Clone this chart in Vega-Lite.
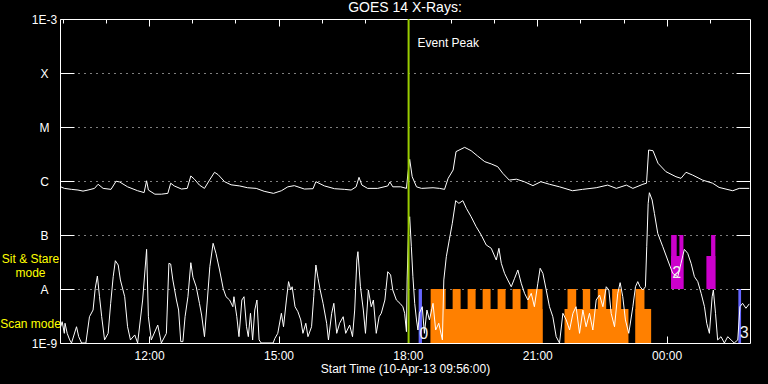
{
"$schema": "https://vega.github.io/schema/vega-lite/v6.json",
"width": 690, "height": 324,
"autosize": "none",
"padding": {"left": 60, "top": 19, "right": 18, "bottom": 41},
"background": "#000000",
"title": {"text": "GOES 14 X-Rays:", "color": "white", "font": "Liberation Sans", "fontSize": 14, "fontWeight": "normal", "anchor": "middle", "offset": -2},
"config": {
  "view": {"stroke": "white", "strokeWidth": 1},
  "axis": {"domain": false, "grid": false, "labelColor": "white", "tickColor": "white", "labelFont": "Liberation Sans", "labelFontSize": 12, "titleColor": "white", "titleFont": "Liberation Sans", "titleFontSize": 12, "titleFontWeight": "normal", "labelOverlap": false, "labelFlush": false, "tickWidth": 1}
},
"datasets": {
  "modes": [
    {"mode": "cal", "start": "2013-04-10T18:15:00", "end": "2013-04-10T18:19:36", "lo": 1e-9, "hi": 1e-8},
    {"mode": "scan", "start": "2013-04-10T18:31:42", "end": "2013-04-10T21:07:22", "lo": 1e-9, "hi": 4.27e-9},
    {"mode": "scan", "start": "2013-04-10T18:31:42", "end": "2013-04-10T18:52:32", "lo": 1e-9, "hi": 1e-8},
    {"mode": "scan", "start": "2013-04-10T19:02:16", "end": "2013-04-10T19:13:24", "lo": 1e-9, "hi": 1e-8},
    {"mode": "scan", "start": "2013-04-10T19:23:07", "end": "2013-04-10T19:34:14", "lo": 1e-9, "hi": 1e-8},
    {"mode": "scan", "start": "2013-04-10T19:44:00", "end": "2013-04-10T19:55:05", "lo": 1e-9, "hi": 1e-8},
    {"mode": "scan", "start": "2013-04-10T20:04:50", "end": "2013-04-10T20:15:55", "lo": 1e-9, "hi": 1e-8},
    {"mode": "scan", "start": "2013-04-10T20:25:40", "end": "2013-04-10T20:36:47", "lo": 1e-9, "hi": 1e-8},
    {"mode": "scan", "start": "2013-04-10T20:46:30", "end": "2013-04-10T21:07:22", "lo": 1e-9, "hi": 1e-8},
    {"mode": "scan", "start": "2013-04-10T21:37:57", "end": "2013-04-10T23:06:54", "lo": 1e-9, "hi": 4.27e-9},
    {"mode": "scan", "start": "2013-04-10T21:42:07", "end": "2013-04-10T21:54:12", "lo": 1e-9, "hi": 1e-8},
    {"mode": "scan", "start": "2013-04-10T22:03:23", "end": "2013-04-10T22:13:40", "lo": 1e-9, "hi": 1e-8},
    {"mode": "scan", "start": "2013-04-10T22:24:13", "end": "2013-04-10T22:35:55", "lo": 1e-9, "hi": 1e-8},
    {"mode": "scan", "start": "2013-04-10T22:44:13", "end": "2013-04-10T22:56:47", "lo": 1e-9, "hi": 1e-8},
    {"mode": "scan", "start": "2013-04-10T23:16:38", "end": "2013-04-10T23:38:28", "lo": 1e-9, "hi": 4.27e-9},
    {"mode": "scan", "start": "2013-04-10T23:16:38", "end": "2013-04-10T23:29:10", "lo": 1e-9, "hi": 1e-8},
    {"mode": "sit", "start": "2013-04-11T00:06:17", "end": "2013-04-11T00:23:22", "lo": 1e-8, "hi": 4.08e-8},
    {"mode": "sit", "start": "2013-04-11T00:06:17", "end": "2013-04-11T00:14:00", "lo": 1e-8, "hi": 1e-7},
    {"mode": "sit", "start": "2013-04-11T00:17:48", "end": "2013-04-11T00:23:22", "lo": 1e-8, "hi": 1e-7},
    {"mode": "sit", "start": "2013-04-11T00:55:20", "end": "2013-04-11T01:07:49", "lo": 1e-8, "hi": 4.08e-8},
    {"mode": "sit", "start": "2013-04-11T01:01:52", "end": "2013-04-11T01:07:49", "lo": 1e-8, "hi": 1e-7},
    {"mode": "cal", "start": "2013-04-11T01:39:48", "end": "2013-04-11T01:43:34", "lo": 1e-9, "hi": 1e-8}
  ],
  "event": [
    {"time": "2013-04-10T18:01:00", "flux": 3.6e-4, "label": "Event Peak"}
  ],
  "tags": [
    {"time": "2013-04-10T18:22:00", "flux": 1.47e-9, "label": "0"},
    {"time": "2013-04-11T00:14:00", "flux": 2.0e-8, "label": "2"},
    {"time": "2013-04-11T01:48:00", "flux": 1.53e-9, "label": "3"}
  ],
  "flux": [
    {"channel": "long", "time": "2013-04-10T09:57:00", "flux": 7.8e-7},
    {"channel": "long", "time": "2013-04-10T10:02:00", "flux": 7.3e-7},
    {"channel": "long", "time": "2013-04-10T10:12:00", "flux": 7.0e-7},
    {"channel": "long", "time": "2013-04-10T10:21:00", "flux": 6.8e-7},
    {"channel": "long", "time": "2013-04-10T10:28:00", "flux": 6.5e-7},
    {"channel": "long", "time": "2013-04-10T10:35:00", "flux": 6.8e-7},
    {"channel": "long", "time": "2013-04-10T10:44:00", "flux": 7.3e-7},
    {"channel": "long", "time": "2013-04-10T10:49:00", "flux": 8.7e-7},
    {"channel": "long", "time": "2013-04-10T10:56:00", "flux": 7.3e-7},
    {"channel": "long", "time": "2013-04-10T11:07:00", "flux": 7.0e-7},
    {"channel": "long", "time": "2013-04-10T11:14:00", "flux": 9.9e-7},
    {"channel": "long", "time": "2013-04-10T11:19:00", "flux": 9.6e-7},
    {"channel": "long", "time": "2013-04-10T11:30:00", "flux": 7.8e-7},
    {"channel": "long", "time": "2013-04-10T11:44:00", "flux": 6.6e-7},
    {"channel": "long", "time": "2013-04-10T11:53:00", "flux": 6.1e-7},
    {"channel": "long", "time": "2013-04-10T11:56:30", "flux": 1.01e-6},
    {"channel": "long", "time": "2013-04-10T11:59:00", "flux": 6.8e-7},
    {"channel": "long", "time": "2013-04-10T12:08:00", "flux": 5.7e-7},
    {"channel": "long", "time": "2013-04-10T12:17:00", "flux": 5.7e-7},
    {"channel": "long", "time": "2013-04-10T12:26:00", "flux": 5.9e-7},
    {"channel": "long", "time": "2013-04-10T12:30:00", "flux": 9.1e-7},
    {"channel": "long", "time": "2013-04-10T12:35:00", "flux": 8.1e-7},
    {"channel": "long", "time": "2013-04-10T12:45:00", "flux": 7.1e-7},
    {"channel": "long", "time": "2013-04-10T12:53:00", "flux": 7.3e-7},
    {"channel": "long", "time": "2013-04-10T12:58:00", "flux": 1.24e-6},
    {"channel": "long", "time": "2013-04-10T13:03:00", "flux": 1.08e-6},
    {"channel": "long", "time": "2013-04-10T13:10:00", "flux": 8.4e-7},
    {"channel": "long", "time": "2013-04-10T13:17:00", "flux": 7.3e-7},
    {"channel": "long", "time": "2013-04-10T13:24:00", "flux": 1.04e-6},
    {"channel": "long", "time": "2013-04-10T13:31:00", "flux": 1.45e-6},
    {"channel": "long", "time": "2013-04-10T13:36:00", "flux": 1.31e-6},
    {"channel": "long", "time": "2013-04-10T13:45:00", "flux": 9.7e-7},
    {"channel": "long", "time": "2013-04-10T13:54:00", "flux": 8.5e-7},
    {"channel": "long", "time": "2013-04-10T14:06:00", "flux": 8.1e-7},
    {"channel": "long", "time": "2013-04-10T14:17:00", "flux": 7.5e-7},
    {"channel": "long", "time": "2013-04-10T14:29:00", "flux": 7.3e-7},
    {"channel": "long", "time": "2013-04-10T14:40:00", "flux": 6.45e-7},
    {"channel": "long", "time": "2013-04-10T14:53:00", "flux": 5.9e-7},
    {"channel": "long", "time": "2013-04-10T15:04:00", "flux": 6.6e-7},
    {"channel": "long", "time": "2013-04-10T15:13:00", "flux": 7.8e-7},
    {"channel": "long", "time": "2013-04-10T15:22:00", "flux": 8.2e-7},
    {"channel": "long", "time": "2013-04-10T15:36:00", "flux": 7.1e-7},
    {"channel": "long", "time": "2013-04-10T15:48:00", "flux": 7.2e-7},
    {"channel": "long", "time": "2013-04-10T15:52:00", "flux": 9.7e-7},
    {"channel": "long", "time": "2013-04-10T16:04:00", "flux": 8.1e-7},
    {"channel": "long", "time": "2013-04-10T16:18:00", "flux": 7.2e-7},
    {"channel": "long", "time": "2013-04-10T16:32:00", "flux": 7.0e-7},
    {"channel": "long", "time": "2013-04-10T16:41:00", "flux": 6.8e-7},
    {"channel": "long", "time": "2013-04-10T16:48:00", "flux": 7.8e-7},
    {"channel": "long", "time": "2013-04-10T16:52:00", "flux": 1.17e-6},
    {"channel": "long", "time": "2013-04-10T16:56:00", "flux": 8.4e-7},
    {"channel": "long", "time": "2013-04-10T17:04:00", "flux": 7.3e-7},
    {"channel": "long", "time": "2013-04-10T17:18:00", "flux": 7.3e-7},
    {"channel": "long", "time": "2013-04-10T17:32:00", "flux": 8.1e-7},
    {"channel": "long", "time": "2013-04-10T17:35:00", "flux": 9.6e-7},
    {"channel": "long", "time": "2013-04-10T17:39:00", "flux": 7.8e-7},
    {"channel": "long", "time": "2013-04-10T17:50:00", "flux": 7.8e-7},
    {"channel": "long", "time": "2013-04-10T17:58:00", "flux": 7.3e-7},
    {"channel": "long", "time": "2013-04-10T18:00:00", "flux": 1.35e-6},
    {"channel": "long", "time": "2013-04-10T18:02:30", "flux": 2.52e-6},
    {"channel": "long", "time": "2013-04-10T18:06:00", "flux": 1.2e-6},
    {"channel": "long", "time": "2013-04-10T18:12:00", "flux": 7.8e-7},
    {"channel": "long", "time": "2013-04-10T18:19:00", "flux": 7.3e-7},
    {"channel": "long", "time": "2013-04-10T18:35:00", "flux": 7.5e-7},
    {"channel": "long", "time": "2013-04-10T18:44:00", "flux": 7.3e-7},
    {"channel": "long", "time": "2013-04-10T18:51:00", "flux": 7.0e-7},
    {"channel": "long", "time": "2013-04-10T18:56:00", "flux": 1.12e-6},
    {"channel": "long", "time": "2013-04-10T19:03:00", "flux": 1.6e-6},
    {"channel": "long", "time": "2013-04-10T19:07:00", "flux": 3.5e-6},
    {"channel": "long", "time": "2013-04-10T19:19:00", "flux": 4.2e-6},
    {"channel": "long", "time": "2013-04-10T19:28:00", "flux": 3.64e-6},
    {"channel": "long", "time": "2013-04-10T19:37:00", "flux": 2.9e-6},
    {"channel": "long", "time": "2013-04-10T19:47:00", "flux": 2.28e-6},
    {"channel": "long", "time": "2013-04-10T19:56:00", "flux": 2.07e-6},
    {"channel": "long", "time": "2013-04-10T20:05:00", "flux": 1.84e-6},
    {"channel": "long", "time": "2013-04-10T20:12:00", "flux": 1.39e-6},
    {"channel": "long", "time": "2013-04-10T20:21:00", "flux": 1.04e-6},
    {"channel": "long", "time": "2013-04-10T20:31:00", "flux": 1.08e-6},
    {"channel": "long", "time": "2013-04-10T20:42:00", "flux": 9.7e-7},
    {"channel": "long", "time": "2013-04-10T20:54:00", "flux": 8.2e-7},
    {"channel": "long", "time": "2013-04-10T21:05:00", "flux": 9.7e-7},
    {"channel": "long", "time": "2013-04-10T21:17:00", "flux": 8.7e-7},
    {"channel": "long", "time": "2013-04-10T21:31:00", "flux": 7.8e-7},
    {"channel": "long", "time": "2013-04-10T21:49:00", "flux": 6.6e-7},
    {"channel": "long", "time": "2013-04-10T22:03:00", "flux": 7.0e-7},
    {"channel": "long", "time": "2013-04-10T22:22:00", "flux": 7.5e-7},
    {"channel": "long", "time": "2013-04-10T22:38:00", "flux": 8.4e-7},
    {"channel": "long", "time": "2013-04-10T22:50:00", "flux": 7.3e-7},
    {"channel": "long", "time": "2013-04-10T23:04:00", "flux": 8.4e-7},
    {"channel": "long", "time": "2013-04-10T23:13:00", "flux": 7.3e-7},
    {"channel": "long", "time": "2013-04-10T23:27:00", "flux": 8.7e-7},
    {"channel": "long", "time": "2013-04-10T23:32:00", "flux": 9.1e-7},
    {"channel": "long", "time": "2013-04-10T23:35:00", "flux": 3.75e-6},
    {"channel": "long", "time": "2013-04-10T23:41:00", "flux": 3.64e-6},
    {"channel": "long", "time": "2013-04-10T23:48:00", "flux": 2.13e-6},
    {"channel": "long", "time": "2013-04-10T23:59:00", "flux": 1.49e-6},
    {"channel": "long", "time": "2013-04-11T00:13:00", "flux": 1.2e-6},
    {"channel": "long", "time": "2013-04-11T00:20:00", "flux": 1.12e-6},
    {"channel": "long", "time": "2013-04-11T00:27:00", "flux": 1.45e-6},
    {"channel": "long", "time": "2013-04-11T00:36:00", "flux": 1.29e-6},
    {"channel": "long", "time": "2013-04-11T00:50:00", "flux": 1.04e-6},
    {"channel": "long", "time": "2013-04-11T01:04:00", "flux": 9.1e-7},
    {"channel": "long", "time": "2013-04-11T01:13:00", "flux": 7.6e-7},
    {"channel": "long", "time": "2013-04-11T01:32:00", "flux": 6.6e-7},
    {"channel": "long", "time": "2013-04-11T01:41:00", "flux": 7.3e-7},
    {"channel": "long", "time": "2013-04-11T01:55:00", "flux": 7.3e-7},
    {"channel": "short", "time": "2013-04-10T09:57:00", "flux": 2.0e-9},
    {"channel": "short", "time": "2013-04-10T09:59:00", "flux": 2.48e-9},
    {"channel": "short", "time": "2013-04-10T10:02:00", "flux": 1.51e-9},
    {"channel": "short", "time": "2013-04-10T10:03:00", "flux": 2.32e-9},
    {"channel": "short", "time": "2013-04-10T10:06:00", "flux": 1.51e-9},
    {"channel": "short", "time": "2013-04-10T10:09:30", "flux": 1.14e-9},
    {"channel": "short", "time": "2013-04-10T10:12:00", "flux": 1e-9},
    {"channel": "short", "time": "2013-04-10T10:19:00", "flux": 2.0e-9},
    {"channel": "short", "time": "2013-04-10T10:22:00", "flux": 1.31e-9},
    {"channel": "short", "time": "2013-04-10T10:26:00", "flux": 1e-9},
    {"channel": "short", "time": "2013-04-10T10:32:00", "flux": 1e-9},
    {"channel": "short", "time": "2013-04-10T10:37:00", "flux": 3.07e-9},
    {"channel": "short", "time": "2013-04-10T10:42:00", "flux": 4.08e-9},
    {"channel": "short", "time": "2013-04-10T10:45:00", "flux": 1.03e-8},
    {"channel": "short", "time": "2013-04-10T10:48:00", "flux": 1.74e-8},
    {"channel": "short", "time": "2013-04-10T10:51:00", "flux": 7.2e-9},
    {"channel": "short", "time": "2013-04-10T10:54:00", "flux": 3.07e-9},
    {"channel": "short", "time": "2013-04-10T10:58:00", "flux": 1.14e-9},
    {"channel": "short", "time": "2013-04-10T11:03:00", "flux": 1.51e-9},
    {"channel": "short", "time": "2013-04-10T11:06:30", "flux": 5.43e-9},
    {"channel": "short", "time": "2013-04-10T11:10:00", "flux": 1.69e-8},
    {"channel": "short", "time": "2013-04-10T11:13:00", "flux": 3.34e-8},
    {"channel": "short", "time": "2013-04-10T11:17:00", "flux": 2.78e-8},
    {"channel": "short", "time": "2013-04-10T11:20:00", "flux": 1.47e-8},
    {"channel": "short", "time": "2013-04-10T11:26:00", "flux": 7.2e-9},
    {"channel": "short", "time": "2013-04-10T11:30:00", "flux": 2.0e-9},
    {"channel": "short", "time": "2013-04-10T11:34:00", "flux": 1.14e-9},
    {"channel": "short", "time": "2013-04-10T11:40:00", "flux": 1.41e-9},
    {"channel": "short", "time": "2013-04-10T11:44:00", "flux": 1e-9},
    {"channel": "short", "time": "2013-04-10T11:51:00", "flux": 6.25e-9},
    {"channel": "short", "time": "2013-04-10T11:56:30", "flux": 5.43e-8},
    {"channel": "short", "time": "2013-04-10T11:59:00", "flux": 3.07e-9},
    {"channel": "short", "time": "2013-04-10T12:03:00", "flux": 1.14e-9},
    {"channel": "short", "time": "2013-04-10T12:12:00", "flux": 2.15e-9},
    {"channel": "short", "time": "2013-04-10T12:17:00", "flux": 1e-9},
    {"channel": "short", "time": "2013-04-10T12:24:00", "flux": 1.51e-9},
    {"channel": "short", "time": "2013-04-10T12:27:30", "flux": 2.99e-8},
    {"channel": "short", "time": "2013-04-10T12:30:00", "flux": 2.9e-8},
    {"channel": "short", "time": "2013-04-10T12:33:00", "flux": 1.47e-8},
    {"channel": "short", "time": "2013-04-10T12:38:00", "flux": 6.25e-9},
    {"channel": "short", "time": "2013-04-10T12:41:00", "flux": 4.08e-9},
    {"channel": "short", "time": "2013-04-10T12:44:00", "flux": 1.06e-9},
    {"channel": "short", "time": "2013-04-10T12:47:00", "flux": 1.06e-9},
    {"channel": "short", "time": "2013-04-10T12:50:00", "flux": 3.07e-9},
    {"channel": "short", "time": "2013-04-10T12:54:00", "flux": 7.2e-9},
    {"channel": "short", "time": "2013-04-10T12:58:00", "flux": 3.07e-8},
    {"channel": "short", "time": "2013-04-10T13:01:00", "flux": 1.65e-8},
    {"channel": "short", "time": "2013-04-10T13:05:30", "flux": 1.1e-8},
    {"channel": "short", "time": "2013-04-10T13:10:00", "flux": 5.43e-9},
    {"channel": "short", "time": "2013-04-10T13:13:00", "flux": 3.3e-9},
    {"channel": "short", "time": "2013-04-10T13:17:00", "flux": 1.31e-9},
    {"channel": "short", "time": "2013-04-10T13:21:00", "flux": 6.25e-9},
    {"channel": "short", "time": "2013-04-10T13:24:30", "flux": 2.59e-8},
    {"channel": "short", "time": "2013-04-10T13:29:00", "flux": 7.02e-8},
    {"channel": "short", "time": "2013-04-10T13:33:00", "flux": 4.58e-8},
    {"channel": "short", "time": "2013-04-10T13:38:00", "flux": 2.25e-8},
    {"channel": "short", "time": "2013-04-10T13:43:00", "flux": 1.03e-8},
    {"channel": "short", "time": "2013-04-10T13:47:00", "flux": 7.2e-9},
    {"channel": "short", "time": "2013-04-10T13:52:00", "flux": 6.25e-9},
    {"channel": "short", "time": "2013-04-10T13:56:30", "flux": 4.7e-9},
    {"channel": "short", "time": "2013-04-10T13:58:00", "flux": 7.2e-9},
    {"channel": "short", "time": "2013-04-10T14:02:00", "flux": 3.07e-9},
    {"channel": "short", "time": "2013-04-10T14:05:00", "flux": 1.31e-9},
    {"channel": "short", "time": "2013-04-10T14:09:00", "flux": 6.25e-9},
    {"channel": "short", "time": "2013-04-10T14:12:00", "flux": 7.2e-9},
    {"channel": "short", "time": "2013-04-10T14:15:30", "flux": 2.0e-9},
    {"channel": "short", "time": "2013-04-10T14:18:00", "flux": 1.31e-9},
    {"channel": "short", "time": "2013-04-10T14:21:00", "flux": 3.55e-9},
    {"channel": "short", "time": "2013-04-10T14:24:00", "flux": 1.14e-9},
    {"channel": "short", "time": "2013-04-10T14:27:00", "flux": 4.08e-9},
    {"channel": "short", "time": "2013-04-10T14:30:00", "flux": 6.25e-9},
    {"channel": "short", "time": "2013-04-10T14:33:00", "flux": 1.14e-9},
    {"channel": "short", "time": "2013-04-10T14:36:00", "flux": 1e-9},
    {"channel": "short", "time": "2013-04-10T14:52:30", "flux": 1e-9},
    {"channel": "short", "time": "2013-04-10T14:55:00", "flux": 1.22e-9},
    {"channel": "short", "time": "2013-04-10T14:59:00", "flux": 1.51e-9},
    {"channel": "short", "time": "2013-04-10T15:04:00", "flux": 3.55e-9},
    {"channel": "short", "time": "2013-04-10T15:07:00", "flux": 2.0e-9},
    {"channel": "short", "time": "2013-04-10T15:11:00", "flux": 6.25e-9},
    {"channel": "short", "time": "2013-04-10T15:14:00", "flux": 1.37e-8},
    {"channel": "short", "time": "2013-04-10T15:17:00", "flux": 9.58e-9},
    {"channel": "short", "time": "2013-04-10T15:19:00", "flux": 1.1e-8},
    {"channel": "short", "time": "2013-04-10T15:23:00", "flux": 4.7e-9},
    {"channel": "short", "time": "2013-04-10T15:27:00", "flux": 3.8e-9},
    {"channel": "short", "time": "2013-04-10T15:31:00", "flux": 2.67e-9},
    {"channel": "short", "time": "2013-04-10T15:34:00", "flux": 1.51e-9},
    {"channel": "short", "time": "2013-04-10T15:38:00", "flux": 2.32e-9},
    {"channel": "short", "time": "2013-04-10T15:41:00", "flux": 1.31e-9},
    {"channel": "short", "time": "2013-04-10T15:46:00", "flux": 2.0e-9},
    {"channel": "short", "time": "2013-04-10T15:49:00", "flux": 7.2e-9},
    {"channel": "short", "time": "2013-04-10T15:52:00", "flux": 2.78e-8},
    {"channel": "short", "time": "2013-04-10T15:55:00", "flux": 1.58e-8},
    {"channel": "short", "time": "2013-04-10T15:58:00", "flux": 9.58e-9},
    {"channel": "short", "time": "2013-04-10T16:02:00", "flux": 5.43e-9},
    {"channel": "short", "time": "2013-04-10T16:07:00", "flux": 2.32e-9},
    {"channel": "short", "time": "2013-04-10T16:09:30", "flux": 1.14e-9},
    {"channel": "short", "time": "2013-04-10T16:14:00", "flux": 3.55e-9},
    {"channel": "short", "time": "2013-04-10T16:17:00", "flux": 5.43e-9},
    {"channel": "short", "time": "2013-04-10T16:21:00", "flux": 1.51e-9},
    {"channel": "short", "time": "2013-04-10T16:25:00", "flux": 2.32e-9},
    {"channel": "short", "time": "2013-04-10T16:30:00", "flux": 3.07e-9},
    {"channel": "short", "time": "2013-04-10T16:33:30", "flux": 1.51e-9},
    {"channel": "short", "time": "2013-04-10T16:39:00", "flux": 2.15e-9},
    {"channel": "short", "time": "2013-04-10T16:43:00", "flux": 1.31e-9},
    {"channel": "short", "time": "2013-04-10T16:46:00", "flux": 4.08e-9},
    {"channel": "short", "time": "2013-04-10T16:49:00", "flux": 3.44e-8},
    {"channel": "short", "time": "2013-04-10T16:50:30", "flux": 4.91e-8},
    {"channel": "short", "time": "2013-04-10T16:54:00", "flux": 1.1e-8},
    {"channel": "short", "time": "2013-04-10T16:58:00", "flux": 4.08e-9},
    {"channel": "short", "time": "2013-04-10T17:01:00", "flux": 1.51e-9},
    {"channel": "short", "time": "2013-04-10T17:05:00", "flux": 9.58e-9},
    {"channel": "short", "time": "2013-04-10T17:09:00", "flux": 4.7e-9},
    {"channel": "short", "time": "2013-04-10T17:12:00", "flux": 6.25e-9},
    {"channel": "short", "time": "2013-04-10T17:16:00", "flux": 1.51e-9},
    {"channel": "short", "time": "2013-04-10T17:20:00", "flux": 3.07e-9},
    {"channel": "short", "time": "2013-04-10T17:23:00", "flux": 3.55e-9},
    {"channel": "short", "time": "2013-04-10T17:28:00", "flux": 6.25e-9},
    {"channel": "short", "time": "2013-04-10T17:32:00", "flux": 2.09e-8},
    {"channel": "short", "time": "2013-04-10T17:36:00", "flux": 1.82e-8},
    {"channel": "short", "time": "2013-04-10T17:39:00", "flux": 9.58e-9},
    {"channel": "short", "time": "2013-04-10T17:44:00", "flux": 6.25e-9},
    {"channel": "short", "time": "2013-04-10T17:49:00", "flux": 5.43e-9},
    {"channel": "short", "time": "2013-04-10T17:53:00", "flux": 4.7e-9},
    {"channel": "short", "time": "2013-04-10T17:55:30", "flux": 3.55e-9},
    {"channel": "short", "time": "2013-04-10T17:58:00", "flux": 1.62e-9},
    {"channel": "short", "time": "2013-04-10T17:59:00", "flux": 1.47e-8},
    {"channel": "short", "time": "2013-04-10T18:01:00", "flux": 1.53e-7},
    {"channel": "short", "time": "2013-04-10T18:02:30", "flux": 2.18e-7},
    {"channel": "short", "time": "2013-04-10T18:04:50", "flux": 6.07e-8},
    {"channel": "short", "time": "2013-04-10T18:07:00", "flux": 1.69e-8},
    {"channel": "short", "time": "2013-04-10T18:09:30", "flux": 5.43e-9},
    {"channel": "short", "time": "2013-04-10T18:12:00", "flux": 2.67e-9},
    {"channel": "short", "time": "2013-04-10T18:14:00", "flux": 1.74e-9},
    {"channel": "short", "time": "2013-04-10T18:16:00", "flux": 3.55e-9},
    {"channel": "short", "time": "2013-04-10T18:20:00", "flux": 4.7e-9},
    {"channel": "short", "time": "2013-04-10T18:23:00", "flux": 1.51e-9},
    {"channel": "short", "time": "2013-04-10T18:26:30", "flux": 4.08e-9},
    {"channel": "short", "time": "2013-04-10T18:30:00", "flux": 2.67e-9},
    {"channel": "short", "time": "2013-04-10T18:35:00", "flux": 5.43e-9},
    {"channel": "short", "time": "2013-04-10T18:38:40", "flux": 1.74e-9},
    {"channel": "short", "time": "2013-04-10T18:43:00", "flux": 2.32e-9},
    {"channel": "short", "time": "2013-04-10T18:48:00", "flux": 1.14e-9},
    {"channel": "short", "time": "2013-04-10T18:50:00", "flux": 1.47e-8},
    {"channel": "short", "time": "2013-04-10T18:53:30", "flux": 3.96e-8},
    {"channel": "short", "time": "2013-04-10T18:58:00", "flux": 8.69e-8},
    {"channel": "short", "time": "2013-04-10T19:01:50", "flux": 1.65e-7},
    {"channel": "short", "time": "2013-04-10T19:06:30", "flux": 4.32e-7},
    {"channel": "short", "time": "2013-04-10T19:11:00", "flux": 3.86e-7},
    {"channel": "short", "time": "2013-04-10T19:16:30", "flux": 4.32e-7},
    {"channel": "short", "time": "2013-04-10T19:21:20", "flux": 3.12e-7},
    {"channel": "short", "time": "2013-04-10T19:28:00", "flux": 2.18e-7},
    {"channel": "short", "time": "2013-04-10T19:35:00", "flux": 1.43e-7},
    {"channel": "short", "time": "2013-04-10T19:42:00", "flux": 1.0e-7},
    {"channel": "short", "time": "2013-04-10T19:49:00", "flux": 6.53e-8},
    {"channel": "short", "time": "2013-04-10T19:56:00", "flux": 5.67e-8},
    {"channel": "short", "time": "2013-04-10T20:03:00", "flux": 3.44e-8},
    {"channel": "short", "time": "2013-04-10T20:06:40", "flux": 5.67e-8},
    {"channel": "short", "time": "2013-04-10T20:10:00", "flux": 2.99e-8},
    {"channel": "short", "time": "2013-04-10T20:14:30", "flux": 1.95e-8},
    {"channel": "short", "time": "2013-04-10T20:19:00", "flux": 1.47e-8},
    {"channel": "short", "time": "2013-04-10T20:23:50", "flux": 1.1e-8},
    {"channel": "short", "time": "2013-04-10T20:28:30", "flux": 1.58e-8},
    {"channel": "short", "time": "2013-04-10T20:33:00", "flux": 2.25e-8},
    {"channel": "short", "time": "2013-04-10T20:37:40", "flux": 1.28e-8},
    {"channel": "short", "time": "2013-04-10T20:42:20", "flux": 8.32e-9},
    {"channel": "short", "time": "2013-04-10T20:47:00", "flux": 6.25e-9},
    {"channel": "short", "time": "2013-04-10T20:51:40", "flux": 8.32e-9},
    {"channel": "short", "time": "2013-04-10T20:56:00", "flux": 4.7e-9},
    {"channel": "short", "time": "2013-04-10T21:00:50", "flux": 1.28e-8},
    {"channel": "short", "time": "2013-04-10T21:04:00", "flux": 2.42e-8},
    {"channel": "short", "time": "2013-04-10T21:07:50", "flux": 1.95e-8},
    {"channel": "short", "time": "2013-04-10T21:12:30", "flux": 9.58e-9},
    {"channel": "short", "time": "2013-04-10T21:17:00", "flux": 4.7e-9},
    {"channel": "short", "time": "2013-04-10T21:21:40", "flux": 3.07e-9},
    {"channel": "short", "time": "2013-04-10T21:26:20", "flux": 1.31e-9},
    {"channel": "short", "time": "2013-04-10T21:31:00", "flux": 1e-9},
    {"channel": "short", "time": "2013-04-10T21:35:40", "flux": 3.55e-9},
    {"channel": "short", "time": "2013-04-10T21:40:20", "flux": 2.67e-9},
    {"channel": "short", "time": "2013-04-10T21:45:00", "flux": 1.74e-9},
    {"channel": "short", "time": "2013-04-10T21:49:40", "flux": 3.55e-9},
    {"channel": "short", "time": "2013-04-10T21:54:00", "flux": 4.7e-9},
    {"channel": "short", "time": "2013-04-10T21:58:50", "flux": 1.51e-9},
    {"channel": "short", "time": "2013-04-10T22:03:30", "flux": 4.08e-9},
    {"channel": "short", "time": "2013-04-10T22:08:00", "flux": 2.0e-9},
    {"channel": "short", "time": "2013-04-10T22:12:40", "flux": 3.55e-9},
    {"channel": "short", "time": "2013-04-10T22:17:20", "flux": 1.74e-9},
    {"channel": "short", "time": "2013-04-10T22:22:00", "flux": 6.25e-9},
    {"channel": "short", "time": "2013-04-10T22:26:40", "flux": 7.74e-9},
    {"channel": "short", "time": "2013-04-10T22:31:20", "flux": 4.7e-9},
    {"channel": "short", "time": "2013-04-10T22:36:00", "flux": 1.1e-8},
    {"channel": "short", "time": "2013-04-10T22:39:40", "flux": 9.58e-9},
    {"channel": "short", "time": "2013-04-10T22:42:50", "flux": 3.55e-9},
    {"channel": "short", "time": "2013-04-10T22:47:30", "flux": 2.0e-9},
    {"channel": "short", "time": "2013-04-10T22:52:00", "flux": 8.32e-9},
    {"channel": "short", "time": "2013-04-10T22:55:20", "flux": 1.31e-8},
    {"channel": "short", "time": "2013-04-10T22:59:00", "flux": 7.2e-9},
    {"channel": "short", "time": "2013-04-10T23:02:40", "flux": 2.67e-9},
    {"channel": "short", "time": "2013-04-10T23:07:20", "flux": 1.51e-9},
    {"channel": "short", "time": "2013-04-10T23:13:00", "flux": 4.7e-9},
    {"channel": "short", "time": "2013-04-10T23:16:40", "flux": 1.1e-8},
    {"channel": "short", "time": "2013-04-10T23:19:50", "flux": 1.37e-8},
    {"channel": "short", "time": "2013-04-10T23:23:00", "flux": 1.1e-8},
    {"channel": "short", "time": "2013-04-10T23:26:50", "flux": 9.58e-9},
    {"channel": "short", "time": "2013-04-10T23:30:30", "flux": 1.1e-8},
    {"channel": "short", "time": "2013-04-10T23:32:20", "flux": 6.07e-8},
    {"channel": "short", "time": "2013-04-10T23:34:20", "flux": 3.86e-7},
    {"channel": "short", "time": "2013-04-10T23:36:00", "flux": 6.07e-7},
    {"channel": "short", "time": "2013-04-10T23:39:50", "flux": 4.45e-7},
    {"channel": "short", "time": "2013-04-10T23:43:00", "flux": 2.52e-7},
    {"channel": "short", "time": "2013-04-10T23:47:40", "flux": 1.07e-7},
    {"channel": "short", "time": "2013-04-10T23:54:40", "flux": 6.07e-8},
    {"channel": "short", "time": "2013-04-11T00:01:30", "flux": 3.44e-8},
    {"channel": "short", "time": "2013-04-11T00:08:30", "flux": 1.95e-8},
    {"channel": "short", "time": "2013-04-11T00:15:30", "flux": 1.69e-8},
    {"channel": "short", "time": "2013-04-11T00:20:00", "flux": 2.99e-8},
    {"channel": "short", "time": "2013-04-11T00:24:40", "flux": 5.43e-8},
    {"channel": "short", "time": "2013-04-11T00:29:20", "flux": 4.58e-8},
    {"channel": "short", "time": "2013-04-11T00:34:00", "flux": 2.99e-8},
    {"channel": "short", "time": "2013-04-11T00:38:40", "flux": 1.69e-8},
    {"channel": "short", "time": "2013-04-11T00:43:20", "flux": 1.37e-8},
    {"channel": "short", "time": "2013-04-11T00:48:00", "flux": 8.32e-9},
    {"channel": "short", "time": "2013-04-11T00:52:40", "flux": 4.7e-9},
    {"channel": "short", "time": "2013-04-11T00:55:50", "flux": 2.32e-9},
    {"channel": "short", "time": "2013-04-11T00:59:30", "flux": 1.51e-9},
    {"channel": "short", "time": "2013-04-11T01:03:20", "flux": 7.2e-9},
    {"channel": "short", "time": "2013-04-11T01:05:00", "flux": 9.58e-9},
    {"channel": "short", "time": "2013-04-11T01:08:00", "flux": 3.55e-9},
    {"channel": "short", "time": "2013-04-11T01:11:00", "flux": 1.14e-9},
    {"channel": "short", "time": "2013-04-11T01:15:40", "flux": 1.31e-9},
    {"channel": "short", "time": "2013-04-11T01:20:20", "flux": 1e-9},
    {"channel": "short", "time": "2013-04-11T01:25:00", "flux": 1.31e-9},
    {"channel": "short", "time": "2013-04-11T01:29:40", "flux": 1.14e-9},
    {"channel": "short", "time": "2013-04-11T01:34:00", "flux": 1e-9},
    {"channel": "short", "time": "2013-04-11T01:39:00", "flux": 1.14e-9},
    {"channel": "short", "time": "2013-04-11T01:42:00", "flux": 4.7e-9},
    {"channel": "short", "time": "2013-04-11T01:45:40", "flux": 5.43e-9},
    {"channel": "short", "time": "2013-04-11T01:50:20", "flux": 4.4e-9},
    {"channel": "short", "time": "2013-04-11T01:55:00", "flux": 5.3e-9}
  ]
},
"layer": [
  {
    "data": {"name": "modes"},
    "mark": {"type": "rect"},
    "encoding": {
      "x": {"field": "start", "type": "temporal",
        "scale": {"domain": [{"year": 2013, "month": 4, "date": 10, "hours": 9, "minutes": 56}, {"year": 2013, "month": 4, "date": 11, "hours": 1, "minutes": 56}], "nice": false},
        "axis": {"orient": "bottom", "values": [{"year": 2013, "month": 4, "date": 10, "hours": 12}, {"year": 2013, "month": 4, "date": 10, "hours": 15}, {"year": 2013, "month": 4, "date": 10, "hours": 18}, {"year": 2013, "month": 4, "date": 10, "hours": 21}, {"year": 2013, "month": 4, "date": 11, "hours": 0}], "format": "%H:%M", "ticks": false, "labelPadding": 7, "labelBaseline": "top", "title": "Start Time (10-Apr-13 09:56:00)", "titlePadding": 2}},
      "x2": {"field": "end"},
      "y": {"field": "lo", "type": "quantitative",
        "scale": {"type": "log", "domain": [1e-9, 1e-3], "nice": false, "clamp": true},
        "axis": {"orient": "left", "values": [1e-9, 1e-8, 1e-7, 1e-6, 1e-5, 1e-4, 1e-3], "labelExpr": "datum.value < 5e-9 ? '1E-9' : datum.value < 5e-8 ? 'A' : datum.value < 5e-7 ? 'B' : datum.value < 5e-6 ? 'C' : datum.value < 5e-5 ? 'M' : datum.value < 5e-4 ? 'X' : '1E-3'", "labelAlign": "center", "labelBaseline": "middle", "labelPadding": 16, "ticks": false, "grid": true, "gridColor": "white", "gridDash": [1, 5], "gridOpacity": 1, "gridWidth": 1, "title": null}},
      "y2": {"field": "hi"},
      "color": {"field": "mode", "type": "nominal", "scale": {"domain": ["scan", "sit", "cal"], "range": ["#ff8000", "#cc00cc", "#6666ff"]}, "legend": null}
    }
  },
  {
    "data": {"name": "flux"},
    "mark": {"type": "line", "color": "white", "strokeWidth": 1},
    "encoding": {
      "x": {"field": "time", "type": "temporal", "axis": {"orient": "top", "values": [{"year": 2013, "month": 4, "date": 10, "hours": 10}, {"year": 2013, "month": 4, "date": 10, "hours": 11}, {"year": 2013, "month": 4, "date": 10, "hours": 12}, {"year": 2013, "month": 4, "date": 10, "hours": 13}, {"year": 2013, "month": 4, "date": 10, "hours": 14}, {"year": 2013, "month": 4, "date": 10, "hours": 15}, {"year": 2013, "month": 4, "date": 10, "hours": 16}, {"year": 2013, "month": 4, "date": 10, "hours": 17}, {"year": 2013, "month": 4, "date": 10, "hours": 18}, {"year": 2013, "month": 4, "date": 10, "hours": 19}, {"year": 2013, "month": 4, "date": 10, "hours": 20}, {"year": 2013, "month": 4, "date": 10, "hours": 21}, {"year": 2013, "month": 4, "date": 10, "hours": 22}, {"year": 2013, "month": 4, "date": 10, "hours": 23}, {"year": 2013, "month": 4, "date": 11, "hours": 0}, {"year": 2013, "month": 4, "date": 11, "hours": 1}], "labels": false, "tickSize": 4, "offset": -4, "title": null}},
      "y": {"field": "flux", "type": "quantitative", "scale": {"type": "log", "domain": [1e-9, 1e-3], "nice": false, "clamp": true},
        "axis": {"orient": "right", "values": [1e-8, 1e-7, 1e-6, 1e-5, 1e-4], "labels": false, "tickSize": 14, "offset": -14, "title": null}},
      "detail": {"field": "channel"}
    }
  },
  {
    "data": {"name": "event"},
    "mark": {"type": "rule", "color": "#99cc00", "strokeWidth": 2},
    "encoding": {
      "x": {"field": "time", "type": "temporal", "axis": {"orient": "top", "values": [{"year": 2013, "month": 4, "date": 10, "hours": 12}, {"year": 2013, "month": 4, "date": 10, "hours": 15}, {"year": 2013, "month": 4, "date": 10, "hours": 18}, {"year": 2013, "month": 4, "date": 10, "hours": 21}, {"year": 2013, "month": 4, "date": 11, "hours": 0}], "labels": false, "tickSize": 7, "offset": -7, "title": null}}
    }
  },
  {
    "data": {"name": "event"},
    "mark": {"type": "text", "align": "left", "baseline": "middle", "dx": 9, "color": "white", "font": "Liberation Sans", "fontSize": 12},
    "encoding": {
      "x": {"field": "time", "type": "temporal", "axis": {"orient": "bottom", "values": [{"year": 2013, "month": 4, "date": 10, "hours": 12}, {"year": 2013, "month": 4, "date": 10, "hours": 15}, {"year": 2013, "month": 4, "date": 10, "hours": 18}, {"year": 2013, "month": 4, "date": 10, "hours": 21}, {"year": 2013, "month": 4, "date": 11, "hours": 0}], "labels": false, "tickSize": 7, "offset": -7, "title": null}},
      "y": {"field": "flux", "type": "quantitative", "scale": {"type": "log", "domain": [1e-9, 1e-3], "nice": false, "clamp": true},
        "axis": {"orient": "left", "values": [1e-8, 1e-7, 1e-6, 1e-5, 1e-4], "labels": false, "tickSize": 14, "offset": -14, "title": null}},
      "text": {"field": "label"}
    }
  },
  {
    "data": {"name": "tags"},
    "mark": {"type": "text", "align": "center", "baseline": "middle", "color": "#f0f0f0", "font": "Liberation Sans", "fontSize": 16},
    "encoding": {
      "x": {"field": "time", "type": "temporal", "axis": null},
      "y": {"field": "flux", "type": "quantitative", "scale": {"type": "log", "domain": [1e-9, 1e-3], "nice": false, "clamp": true},
        "axis": {"orient": "left", "values": [3.75e-8, 2.06e-8, 2.25e-9], "labelExpr": "datum.value > 3e-8 ? 'Sit & Stare' : datum.value > 1e-8 ? 'mode' : 'Scan mode'", "labelAlign": "center", "labelBaseline": "middle", "labelPadding": 30, "labelColor": "#ffff00", "labelFontSize": 12, "ticks": false, "title": null}},
      "text": {"field": "label"}
    }
  }
]
}
